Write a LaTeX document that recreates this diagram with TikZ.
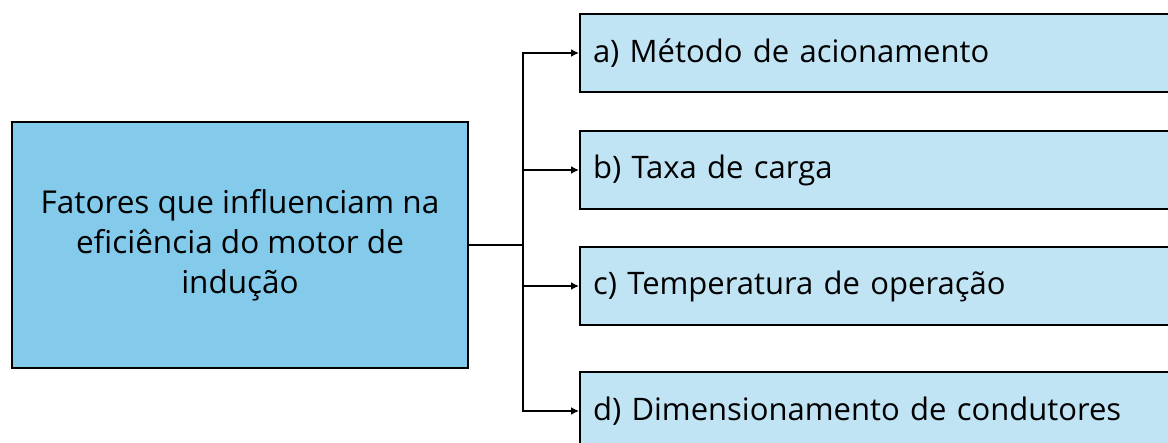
\documentclass[tikz,border=0pt]{standalone}
\usepackage{fontspec}
\setmainfont{Open Sans}
\usetikzlibrary{arrows.meta}
\definecolor{mainfill}{HTML}{83CAEB}
\definecolor{itemfill}{HTML}{C1E4F5}
\tikzset{
  mainbox/.style={draw=black, line width=2pt, fill=mainfill, minimum width=456pt, minimum height=246pt, inner sep=0pt, font=\fontsize{31.5}{40}\selectfont, align=center},
  itembox/.style={draw=black, line width=2pt, fill=itemfill, minimum width=620pt, minimum height=78pt, inner sep=0pt, text width=620pt, font=\fontsize{31}{34}\selectfont, align=left, anchor=west},
  conn/.style={line width=2pt},
  arr/.style={line width=2pt, -{Latex[length=8pt,width=8pt]}}
}
\begin{document}
\begin{tikzpicture}[x=1pt,y=-1pt]
\useasboundingbox (0,0) rectangle (1168,443);
\clip (0,0) rectangle (1168,443);
\node[mainbox] (L) at (240,245) {Fatores que influenciam na\\eficiência do motor de\\indução};
\node[itembox] (a) at (579,53) {\hspace*{13pt}a) Método de acionamento};
\node[itembox] (b) at (579,170) {\hspace*{13pt}b) Taxa de carga};
\node[itembox] (c) at (579,286) {\hspace*{13pt}c) Temperatura de operação};
\node[itembox] (d) at (579,411) {\hspace*{13pt}d) Dimensionamento de condutores};
\coordinate (J) at (523,245);
\draw[conn] (L.east) -- (J);
\draw[arr] (J) |- (a.west);
\draw[arr] (J) |- (b.west);
\draw[arr] (J) |- (c.west);
\draw[arr] (J) |- (d.west);
\end{tikzpicture}
\end{document}
